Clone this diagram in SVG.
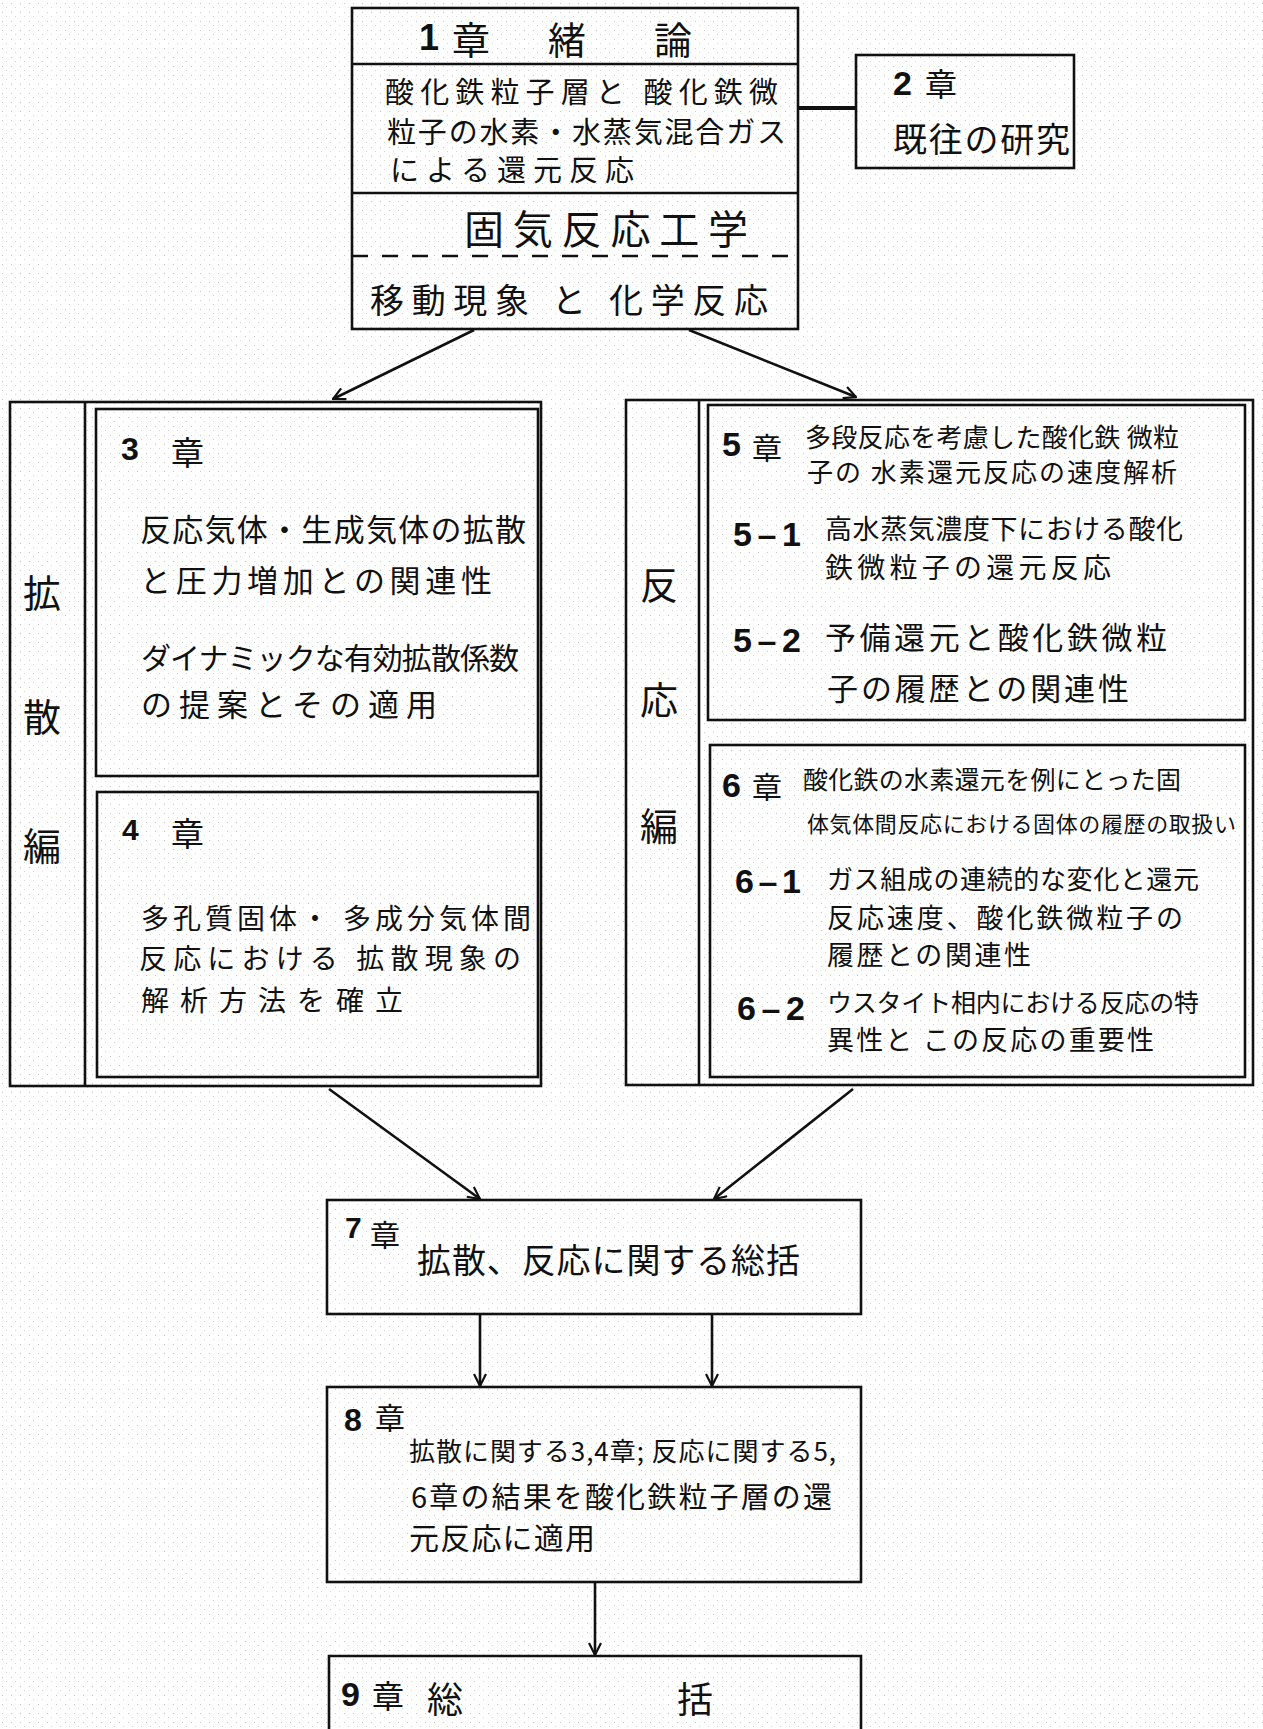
<svg xmlns="http://www.w3.org/2000/svg" width="1263" height="1729" viewBox="0 0 1263 1729">
<style>
.box{fill:none;stroke:#111;stroke-width:2.6}
.ln{fill:none;stroke:#111;stroke-width:2.6}
.hw{font-family:"Noto Sans CJK JP","Noto Sans CJK SC",sans-serif;fill:#111;dominant-baseline:central}
.num{font-family:"Liberation Sans",Arial,sans-serif;font-weight:bold;fill:#111;dominant-baseline:central}
.side{font-family:"Noto Sans CJK JP",sans-serif;fill:#111;font-size:38px;text-anchor:middle;dominant-baseline:central}
</style>
<defs>
<marker id="ah" viewBox="0 0 14 14" refX="13" refY="7" markerWidth="14" markerHeight="14" markerUnits="userSpaceOnUse" orient="auto">
<path d="M1,1 L13,7 L1,13" fill="none" stroke="#111" stroke-width="2.2"/>
</marker>
<pattern id="paper" width="9" height="9" patternUnits="userSpaceOnUse">
<rect width="9" height="9" fill="#ffffff"/>
<rect x="2" y="3" width="1" height="1" fill="#c8c8c8"/>
<rect x="6" y="7" width="1" height="1" fill="#d6d6d6"/>
</pattern>
</defs>
<rect width="1263" height="1729" fill="url(#paper)"/>

<g id="connectors">
<line class="ln" x1="798" y1="108" x2="856" y2="108" style="stroke-width:4"/>
<line class="ln" x1="474" y1="330" x2="333" y2="399" marker-end="url(#ah)"/>
<line class="ln" x1="689" y1="330" x2="856" y2="397" marker-end="url(#ah)"/>
<line class="ln" x1="329" y1="1089" x2="480" y2="1199" marker-end="url(#ah)"/>
<line class="ln" x1="853" y1="1089" x2="714" y2="1199" marker-end="url(#ah)"/>
<line class="ln" x1="480" y1="1315" x2="480" y2="1386" marker-end="url(#ah)"/>
<line class="ln" x1="712" y1="1315" x2="712" y2="1386" marker-end="url(#ah)"/>
<line class="ln" x1="595" y1="1583" x2="595" y2="1655" marker-end="url(#ah)"/>
</g>

<g id="ch1">
<rect class="box" x="352" y="8" width="446" height="321"/>
<line class="ln" x1="352" y1="64" x2="798" y2="64"/>
<line class="ln" x1="352" y1="193" x2="798" y2="193"/>
<line class="ln" x1="352" y1="256" x2="798" y2="256" stroke-dasharray="16,14"/>
<text class="num" x="419" y="37" font-size="36">1</text>
<text class="hw" font-size="38" y="37"><tspan x="452">章</tspan><tspan x="548">緒</tspan><tspan x="654">論</tspan></text>
<text class="hw" x="385" y="90" font-size="29" textLength="393">酸化鉄粒子層と 酸化鉄微</text>
<text class="hw" x="387" y="130" font-size="29" textLength="399">粒子の水素・水蒸気混合ガス</text>
<text class="hw" x="390" y="168" font-size="29" textLength="244">による還元反応</text>
<text class="hw" x="464" y="227" font-size="40" textLength="284">固気反応工学</text>
<text class="hw" x="370" y="298" font-size="34" textLength="398">移動現象 と 化学反応</text>
</g>

<g id="ch2">
<rect class="box" x="856" y="55" width="218" height="113"/>
<text class="num" x="893" y="83" font-size="34">2</text>
<text class="hw" x="925" y="82" font-size="32">章</text>
<text class="hw" x="893" y="137" font-size="34" textLength="177">既往の研究</text>
</g>

<g id="diffusion">
<rect class="box" x="10" y="402" width="531" height="684"/>
<line class="ln" x1="85" y1="402" x2="85" y2="1086"/>
<text class="side" x="42" y="590">拡</text>
<text class="side" x="42" y="714">散</text>
<text class="side" x="42" y="843">編</text>
</g>

<g id="ch3">
<rect class="box" x="96" y="409" width="442" height="367"/>
<text class="num" x="121" y="449" font-size="32">3</text>
<text class="hw" x="171" y="451" font-size="33">章</text>
<text class="hw" x="140" y="527" font-size="31" textLength="386">反応気体・生成気体の拡散</text>
<text class="hw" x="140" y="578" font-size="31" textLength="352">と圧力増加との関連性</text>
<text class="hw" x="141" y="656" font-size="30" textLength="378">ダイナミックな有効拡散係数</text>
<text class="hw" x="141" y="702" font-size="31" textLength="296">の提案とその適用</text>
</g>

<g id="ch4">
<rect class="box" x="97" y="792" width="441" height="285"/>
<text class="num" x="122" y="829" font-size="30">4</text>
<text class="hw" x="171" y="832" font-size="33">章</text>
<text class="hw" x="141" y="917" font-size="28" textLength="390">多孔質固体・ 多成分気体間</text>
<text class="hw" x="139" y="957" font-size="28" textLength="382">反応における 拡散現象の</text>
<text class="hw" x="141" y="999" font-size="28" textLength="262">解析方法を確立</text>
</g>

<g id="reaction">
<rect class="box" x="626" y="400" width="627" height="685"/>
<line class="ln" x1="699" y1="400" x2="699" y2="1085"/>
<text class="side" x="659" y="582">反</text>
<text class="side" x="659" y="697">応</text>
<text class="side" x="659" y="823">編</text>
</g>

<g id="ch5">
<rect class="box" x="708" y="405" width="537" height="315"/>
<text class="num" x="722" y="444" font-size="34">5</text>
<text class="hw" x="752" y="446" font-size="30">章</text>
<text class="hw" x="805" y="435" font-size="26" textLength="374">多段反応を考慮した酸化鉄 微粒</text>
<text class="hw" x="807" y="470" font-size="26" textLength="370">子の 水素還元反応の速度解析</text>
<text class="num" x="733" y="534" font-size="34" textLength="68">5–1</text>
<text class="hw" x="825" y="527" font-size="27" textLength="358">高水蒸気濃度下における酸化</text>
<text class="hw" x="825" y="566" font-size="28" textLength="286">鉄微粒子の還元反応</text>
<text class="num" x="733" y="640" font-size="34" textLength="68">5–2</text>
<text class="hw" x="825" y="635" font-size="31" textLength="342">予備還元と酸化鉄微粒</text>
<text class="hw" x="827" y="686" font-size="31" textLength="302">子の履歴との関連性</text>
</g>

<g id="ch6">
<rect class="box" x="710" y="745" width="535" height="332"/>
<text class="num" x="722" y="785" font-size="34">6</text>
<text class="hw" x="752" y="785" font-size="30">章</text>
<text class="hw" x="803" y="778" font-size="25" textLength="378">酸化鉄の水素還元を例にとった固</text>
<text class="hw" x="807" y="822" font-size="22" textLength="429">体気体間反応における固体の履歴の取扱い</text>
<text class="num" x="735" y="881" font-size="34" textLength="66">6–1</text>
<text class="hw" x="827" y="877" font-size="26" textLength="372">ガス組成の連続的な変化と還元</text>
<text class="hw" x="827" y="916" font-size="27" textLength="356">反応速度、酸化鉄微粒子の</text>
<text class="hw" x="827" y="953" font-size="27" textLength="204">履歴との関連性</text>
<text class="num" x="737" y="1008" font-size="34" textLength="68">6–2</text>
<text class="hw" x="827" y="1001" font-size="25" textLength="372">ウスタイト相内における反応の特</text>
<text class="hw" x="827" y="1038" font-size="27" textLength="327">異性と この反応の重要性</text>
</g>

<g id="ch7">
<rect class="box" x="327" y="1200" width="534" height="114"/>
<text class="num" x="345" y="1227" font-size="30">7</text>
<text class="hw" x="370" y="1233" font-size="30">章</text>
<text class="hw" x="417" y="1258" font-size="34" textLength="383">拡散、反応に関する総括</text>
</g>

<g id="ch8">
<rect class="box" x="327" y="1387" width="534" height="195"/>
<text class="num" x="344" y="1420" font-size="32">8</text>
<text class="hw" x="375" y="1416" font-size="30">章</text>
<text class="hw" x="409" y="1449" font-size="26" textLength="427">拡散に関する3,4章; 反応に関する5,</text>
<text class="hw" x="411" y="1495" font-size="29" textLength="421">6章の結果を酸化鉄粒子層の還</text>
<text class="hw" x="409" y="1536" font-size="30" textLength="186">元反応に適用</text>
</g>

<g id="ch9">
<path class="ln" d="M329,1740 L329,1656 L861,1656 L861,1740"/>
<text class="num" x="341" y="1694" font-size="34">9</text>
<text class="hw" x="372" y="1694" font-size="32">章</text>
<text class="hw" x="427" y="1697" font-size="36">総</text>
<text class="hw" x="677" y="1697" font-size="36">括</text>
</g>
</svg>
